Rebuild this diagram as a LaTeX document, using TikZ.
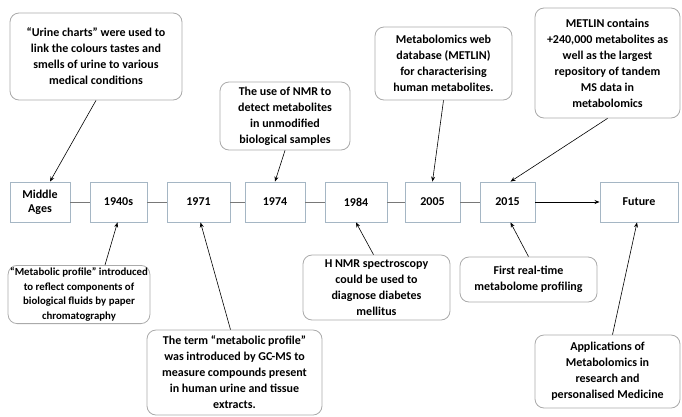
\documentclass[tikz,border=0pt]{standalone}
\usepackage{fontspec}
\setmainfont{Carlito}
\usetikzlibrary{arrows.meta,positioning,calc}
\definecolor{yearedge}{RGB}{165,182,196}
\definecolor{noteedge}{RGB}{170,170,170}
\definecolor{linkgray}{RGB}{120,120,120}
\tikzset{
  yearbox/.style={draw=yearedge, fill=white, line width=0.9pt, align=center,
                  minimum height=40pt, inner sep=2pt, font=\fontsize{12}{14}\selectfont\bfseries},
  note/.style={rounded corners=9pt, draw=noteedge, fill=white, line width=0.8pt,
               align=center, inner sep=2pt, font=\fontsize{12}{16}\selectfont\bfseries},
  link/.style={line width=0.8pt, draw=linkgray},
  point/.style={-{Stealth[length=5pt,width=4pt]}, line width=0.6pt, draw=black},
}
\begin{document}
\begin{tikzpicture}[x=1pt,y=-1pt]
  \useasboundingbox (0,0) rectangle (682,416);
  % timeline
  \node[yearbox, minimum width=60pt] (ma) at (40,202) {Middle\\ Ages};
  \node[yearbox, minimum width=57pt] (y40) at (118.5,202) {1940s};
  \node[yearbox, minimum width=63pt] (y71) at (198.5,202) {1971};
  \node[yearbox, minimum width=60pt] (y74) at (275,202) {1974};
  \node[yearbox, minimum width=62pt] (y84) at (356,202) {1984};
  \node[yearbox, minimum width=55pt] (y05) at (432.5,202) {2005};
  \node[yearbox, minimum width=55pt] (y15) at (507.5,202) {2015};
  \node[yearbox, minimum width=78pt] (fut) at (639,202) {Future};
  \draw[link] (ma)--(y40);\draw[link] (y40)--(y71);\draw[link] (y71)--(y74);
  \draw[link] (y74)--(y84);\draw[link] (y84)--(y05);\draw[link] (y05)--(y15);
  \draw[point, line width=0.9pt] (y15)--(fut);
  % notes above
  \node[note, minimum width=172pt, minimum height=87pt] (urine) at (96,56.5)
    {“Urine charts” were used to\\ link the colours tastes and\\ smells of urine to various\\ medical conditions};
  \node[note, minimum width=130pt, minimum height=68pt] (nmr) at (285,116)
    {The use of NMR to\\ detect metabolites\\ in unmodified\\ biological samples};
  \node[note, minimum width=137pt, minimum height=73pt] (web) at (443.5,63.5)
    {Metabolomics web\\ database (METLIN)\\ for characterising\\ human metabolites.};
  \node[note, minimum width=145pt, minimum height=110pt] (metlin) at (607.5,63)
    {METLIN contains\\ +240,000 metabolites as\\ well as the largest\\ repository of tandem\\ MS data in\\ metabolomics};
  % notes below
  \node[note, minimum width=138pt, minimum height=55pt, font=\fontsize{10.8}{14.8}\selectfont\bfseries] (prof) at (79,294.5)
    {“Metabolic profile” introduced\\ to reflect components of\\ biological fluids by paper\\ chromatography};
  \node[note, minimum width=175pt, minimum height=85pt] (term) at (234.5,372.5)
    {The term “metabolic profile”\\ was introduced by GC-MS to\\ measure compounds present\\ in human urine and tissue\\ extracts.};
  \node[note, minimum width=147pt, minimum height=65pt] (hnmr) at (376.5,287.5)
    {H NMR spectroscopy\\ could be used to\\ diagnose diabetes\\ mellitus};
  \node[note, minimum width=137pt, minimum height=45pt] (first) at (528.5,279.5)
    {First real-time\\ metabolome profiling};
  \node[note, minimum width=145pt, minimum height=73pt] (apps) at (607.5,371.5)
    {Applications of\\ Metabolomics in\\ research and\\ personalised Medicine};
  % pointers
  \draw[point] (urine.south)--([xshift=10pt]ma.north);
  \draw[point] (nmr.south)--(y74.north);
  \draw[point] (web.south)--(y05.north);
  \draw[point] (metlin.south)--([xshift=3pt]y15.north);
  \draw[point] ([xshift=26pt]prof.north)--([xshift=-1pt]y40.south);
  \draw[point] ([xshift=-4pt]term.north)--([xshift=2pt]y71.south);
  \draw[point] ([xshift=-3pt]hnmr.north)--(y84.south);
  \draw[point] (first.north)--([xshift=3pt]y15.south);
  \draw[point] ([xshift=5pt]apps.north)--([xshift=-2pt]fut.south);
\end{tikzpicture}
\end{document}
